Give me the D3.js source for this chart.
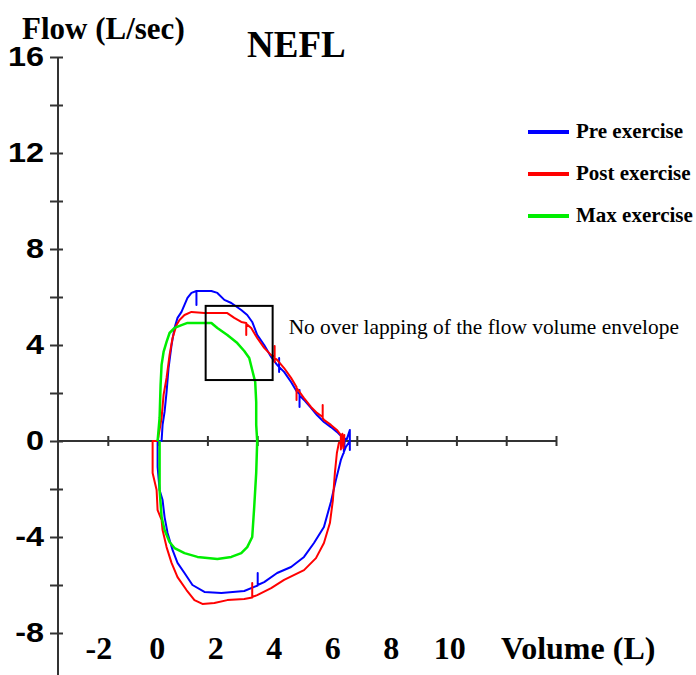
<!DOCTYPE html>
<html>
<head>
<meta charset="utf-8">
<script src="https://cdn.jsdelivr.net/npm/d3@7"></script>
<style>
  html, body { margin: 0; padding: 0; background: #ffffff; }
  svg { display: block; }
</style>
</head>
<body>
<svg id="chart" width="696" height="675"></svg>
<script>
// Flow-volume loops (volume in L, flow in L/sec), one loop per test condition.
const preExercise = [
  [0.00, 0.00], [0.16, 0.00], [0.20, 0.67], [0.28, 1.21], [0.36, 2.04], [0.44, 3.04],
  [0.56, 4.00], [0.68, 4.71], [0.80, 5.13], [0.96, 5.38], [1.08, 5.67], [1.20, 5.96],
  [1.36, 6.17], [1.56, 6.25], [1.56, 5.67], [1.56, 6.25], [2.16, 6.25], [2.40, 6.17],
  [2.68, 5.88], [2.96, 5.75], [3.36, 5.46], [3.60, 5.25], [3.80, 4.96], [4.00, 4.42],
  [4.28, 4.00], [4.56, 3.50], [4.80, 3.17], [4.88, 3.08], [4.88, 3.46], [4.88, 2.88],
  [4.88, 3.08], [5.08, 2.88], [5.36, 2.46], [5.60, 2.04], [5.70, 1.96], [5.70, 2.13],
  [5.70, 1.42], [5.70, 1.90], [5.88, 1.71], [6.16, 1.38], [6.40, 1.08], [6.68, 0.79],
  [6.96, 0.58], [7.20, 0.38], [7.40, 0.17], [7.48, 0.17], [7.48, -0.50], [7.52, 0.10],
  [7.60, 0.08], [7.72, 0.46], [7.72, -0.38], [7.72, 0.00],
  [7.56, -0.25], [7.36, -0.79], [7.16, -1.63], [6.96, -2.54], [6.68, -3.58], [6.28, -4.25],
  [5.88, -4.83], [5.36, -5.25], [4.80, -5.50], [4.28, -5.88], [4.02, -6.00], [4.02, -5.50],
  [4.02, -6.02], [3.88, -6.08], [3.48, -6.25], [2.56, -6.33], [1.88, -6.29], [1.40, -6.00],
  [1.08, -5.50], [0.80, -5.08], [0.60, -4.54], [0.40, -3.83], [0.28, -3.17], [0.20, -2.46],
  [0.08, -2.04], [0.00, -1.08], [0.00, 0.00]
];

const postExercise = [
  [0.00, 0.00], [0.16, 0.96], [0.24, 1.92], [0.36, 2.63], [0.48, 3.58], [0.60, 4.29],
  [0.76, 4.83], [0.88, 5.04], [1.08, 5.25], [1.36, 5.38], [1.88, 5.33], [2.80, 5.33],
  [3.08, 5.13], [3.36, 4.96], [3.56, 4.92], [3.56, 4.42], [3.56, 4.88], [3.76, 4.71],
  [4.00, 4.29], [4.28, 3.88], [4.56, 3.58], [4.70, 3.50], [4.70, 3.96], [4.70, 3.29],
  [4.70, 3.46], [4.80, 3.38], [5.08, 3.04], [5.36, 2.63], [5.58, 2.25], [5.58, 1.71],
  [5.58, 2.21], [5.88, 1.79], [6.16, 1.42], [6.40, 1.17], [6.63, 1.00], [6.63, 1.50],
  [6.63, 0.96], [6.68, 0.88], [6.96, 0.67], [7.20, 0.46], [7.36, 0.25], [7.36, -0.35],
  [7.42, 0.30], [7.46, -0.30], [7.50, 0.25], [7.48, 0.00],
  [7.28, -0.08], [7.20, -0.50], [7.12, -1.33], [7.04, -2.46], [6.92, -3.42], [6.68, -4.25],
  [6.36, -4.88], [5.88, -5.38], [5.08, -5.79], [4.56, -6.13], [4.00, -6.42], [3.80, -6.50],
  [3.80, -5.92], [3.80, -6.52], [3.48, -6.58], [2.80, -6.63], [2.28, -6.75], [1.80, -6.79],
  [1.48, -6.63], [1.16, -6.21], [0.80, -5.67], [0.56, -5.08], [0.36, -4.42], [0.20, -3.71],
  [0.16, -3.29], [0.00, -2.88], [-0.04, -2.04], [-0.20, -1.33], [-0.20, 0.00], [0.00, 0.00]
];

const maxExercise = [
  [0.00, 0.00], [0.08, 0.96], [0.12, 2.33], [0.16, 3.17], [0.24, 3.71], [0.36, 4.13],
  [0.48, 4.50], [0.68, 4.71], [0.96, 4.83], [1.20, 4.92], [1.60, 4.92], [2.16, 4.92],
  [2.40, 4.71], [2.80, 4.42], [3.20, 4.08], [3.48, 3.75], [3.68, 3.46], [3.80, 2.96],
  [3.92, 2.46], [3.96, 1.63], [3.96, 0.67], [4.00, 0.00],
  [3.96, -1.33], [3.88, -2.75], [3.80, -4.00], [3.60, -4.42], [3.36, -4.67], [2.96, -4.83],
  [2.40, -4.92], [1.60, -4.83], [1.08, -4.67], [0.68, -4.46], [0.48, -4.21], [0.28, -3.71],
  [0.16, -3.17], [0.08, -2.04], [0.08, 0.00]
];

const seriesNames = ["Pre exercise", "Post exercise", "Max exercise"];
const seriesColors = ["#0000ff", "#ff0000", "#00ee00"];

// Axis ticks
const flowTickLabels = [16, 12, 8, 4, 0, -4, -8];
const flowMinorTicks = [14, 10, 6, 2, -2, -6];
const volumeTicks = [-2, 0, 2, 4, 6, 8, 10, 12, 14, 16];
const volumeTickLabels = [-2, 0, 2, 4, 6, 8, 10];

// Highlighted region of the expiratory limbs
const envelopeBox = { v0: 1.93, v1: 4.62, f0: 2.54, f1: 5.63 };
const envelopeNote = "No over lapping of the flow volume envelope";

const svg = d3.select("#chart");
const serif = "'Liberation Serif', 'Times New Roman', serif";
const sans = "'Liberation Sans', Arial, sans-serif";

const x = d3.scaleLinear().domain([-4, 16]).range([58, 556]);
const y = d3.scaleLinear().domain([-10, 16]).range([681, 57]);
const xLabelPos = d3.scaleLinear().domain([-2, 10]).range([98.8, 449.8]);

const axisColor = "#333333";

function styleAxis(g) {
  g.select(".domain").attr("stroke", axisColor).attr("stroke-width", 2);
  g.selectAll(".tick line").attr("stroke", axisColor).attr("stroke-width", 2);
}

// Volume axis (horizontal, at zero flow): ticks cross the line
const xAxisG = svg.append("g").attr("transform", `translate(0,${y(0)})`);
xAxisG.append("g").call(d3.axisBottom(x).tickValues(volumeTicks).tickFormat("").tickSize(5).tickSizeOuter(0)).call(styleAxis);
xAxisG.append("g").call(d3.axisTop(x).tickValues(volumeTicks).tickFormat("").tickSize(5).tickSizeOuter(0)).call(styleAxis);
xAxisG.selectAll(".domain").attr("d", `M${x(-4)},0H${x(16)}`);

// Flow axis (vertical, at x = -4 L)
const yAxisG = svg.append("g").attr("transform", `translate(${x(-4)},0)`);
const allFlowTicks = flowTickLabels.concat(flowMinorTicks);
yAxisG.append("g").call(d3.axisLeft(y).tickValues(allFlowTicks).tickFormat("").tickSize(8).tickSizeOuter(0)).call(styleAxis);
yAxisG.append("g").call(d3.axisRight(y).tickValues(allFlowTicks).tickFormat("").tickSize(5).tickSizeOuter(0)).call(styleAxis);
yAxisG.selectAll(".domain").attr("d", `M0,${y(16)}V${y(-10)}`);

// Flow tick labels (wide bold digits)
svg.append("g").selectAll("text").data(flowTickLabels).join("text")
  .attr("transform", d => `translate(44,${y(d) + 9}) scale(1.2,1)`)
  .attr("text-anchor", "end")
  .attr("font-family", sans)
  .attr("font-weight", "bold")
  .attr("font-size", 27)
  .attr("fill", "#000")
  .text(d => d);

// Volume tick labels
svg.append("g").selectAll("text").data(volumeTickLabels).join("text")
  .attr("x", d => xLabelPos(d))
  .attr("y", 659)
  .attr("text-anchor", "middle")
  .attr("font-family", serif)
  .attr("font-weight", "bold")
  .attr("font-size", 32)
  .attr("fill", "#000")
  .text(d => d);

svg.append("text")
  .attr("x", 501).attr("y", 659)
  .attr("font-family", serif).attr("font-weight", "bold").attr("font-size", 32)
  .text("Volume (L)");

svg.append("text")
  .attr("x", 22).attr("y", 39)
  .attr("font-family", serif).attr("font-weight", "bold").attr("font-size", 31)
  .text("Flow (L/sec)");

svg.append("text")
  .attr("x", 247).attr("y", 57)
  .attr("font-family", serif).attr("font-weight", "bold").attr("font-size", 37)
  .text("NEFL");

// Loops
const line = d3.line().x(d => x(d[0])).y(d => y(d[1]));
const loops = [preExercise, postExercise, maxExercise];
const widths = [2, 2, 2.5];
loops.forEach((data, i) => {
  svg.append("path")
    .datum(data)
    .attr("d", line)
    .attr("fill", "none")
    .attr("stroke", seriesColors[i])
    .attr("stroke-width", widths[i])
    .attr("stroke-linejoin", "round");
});

// Highlight box and its note
svg.append("rect")
  .attr("x", x(envelopeBox.v0))
  .attr("y", y(envelopeBox.f1))
  .attr("width", x(envelopeBox.v1) - x(envelopeBox.v0))
  .attr("height", y(envelopeBox.f0) - y(envelopeBox.f1))
  .attr("fill", "none")
  .attr("stroke", "#000")
  .attr("stroke-width", 2);

svg.append("text")
  .attr("x", x(envelopeBox.v1) + 16)
  .attr("y", y(envelopeBox.f1) + 28)
  .attr("font-family", serif)
  .attr("font-size", 21.4)
  .attr("fill", "#000")
  .text(envelopeNote);

// Legend
const legend = svg.append("g").selectAll("g").data(seriesNames).join("g")
  .attr("transform", (d, i) => `translate(528,${132 + i * 42})`);
legend.append("line")
  .attr("x1", 0).attr("x2", 41).attr("y1", 0).attr("y2", 0)
  .attr("stroke", (d, i) => seriesColors[i])
  .attr("stroke-width", 4);
legend.append("text")
  .attr("x", 48).attr("y", 6)
  .attr("font-family", serif).attr("font-weight", "bold").attr("font-size", 21)
  .text(d => d);
</script>
</body>
</html>
